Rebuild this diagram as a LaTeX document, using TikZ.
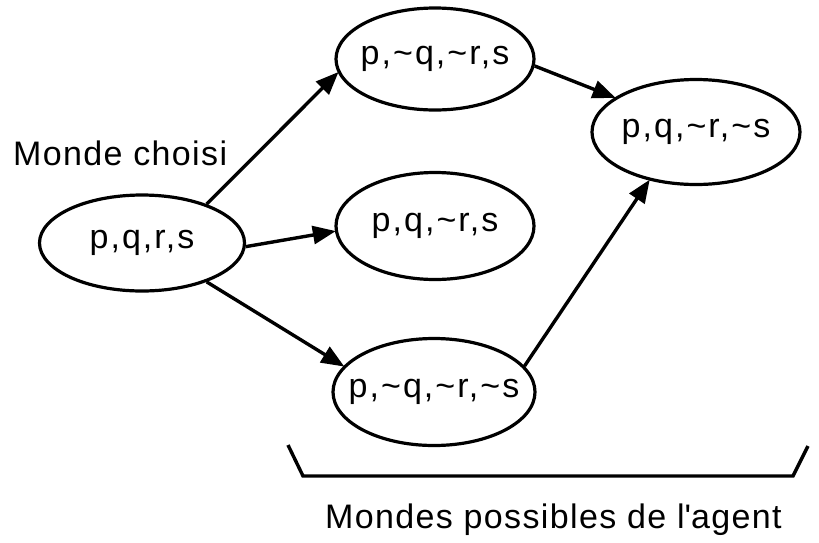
\documentclass[tikz,border=0pt]{standalone}
\usepackage{fontspec}
\setmainfont{Liberation Sans}[LetterSpace=4]
\usetikzlibrary{shapes.geometric,arrows.meta}
% zero-width box so that the ellipse size comes only from its minimum width/height
\newcommand{\worldtext}[1]{\makebox[0pt][c]{#1}}
\begin{document}
\begin{tikzpicture}[x=1pt,y=-1pt,
  world/.style={draw,ellipse,line width=3.2pt,inner sep=0pt,
    font=\fontsize{34}{40}\selectfont\addfontfeatures{LetterSpace=6}},
  arr/.style={line width=3.4pt,-{Triangle[length=23pt,width=18pt]},shorten >=-1pt},
  lbl/.style={inner sep=0pt,anchor=base west,font=\fontsize{34}{40}\selectfont},
  brace/.style={line width=3.4pt,line join=miter}]
\useasboundingbox (0,0) rectangle (819,542);

% the chosen world and the worlds the agent considers possible
\node[world,minimum width=205pt,minimum height=96pt] (w0) at (142,243) {\worldtext{p,q,r,s}};
\node[world,minimum width=198pt,minimum height=102pt] (w1) at (435,59) {\worldtext{p,\textasciitilde q,\textasciitilde r,s}};
\node[world,minimum width=198pt,minimum height=107pt] (w2) at (435,226) {\worldtext{p,q,\textasciitilde r,s}};
\node[world,minimum width=202pt,minimum height=107pt] (w3) at (434,392) {\worldtext{p,\textasciitilde q,\textasciitilde r,\textasciitilde s}};
\node[world,minimum width=208pt,minimum height=105pt] (w4) at (696,132) {\worldtext{p,q,\textasciitilde r,\textasciitilde s}};

% accessibility relations
\draw[arr] (w0.31) -- (w1.188);
\draw[arr] (w0.-2) -- (w2.183);
\draw[arr] (w0.-31) -- (w3.164);
\draw[arr] (w1.-4) -- (w4.157);
\draw[arr] (w3.16) -- (w4.226);

% labels
\node[lbl] (chosen) at (13,165) {Monde choisi};
\node[lbl] (possible) at (325,528) {Mondes possibles de l\textquotesingle agent};

% bracket under the possible worlds
\coordinate (b1) at (288,445);
\coordinate (b2) at (303,476);
\coordinate (b3) at (793,476);
\coordinate (b4) at (808,446);
\draw[brace] (b1) -- (b2) -- (b3) -- (b4);
\end{tikzpicture}
\end{document}
